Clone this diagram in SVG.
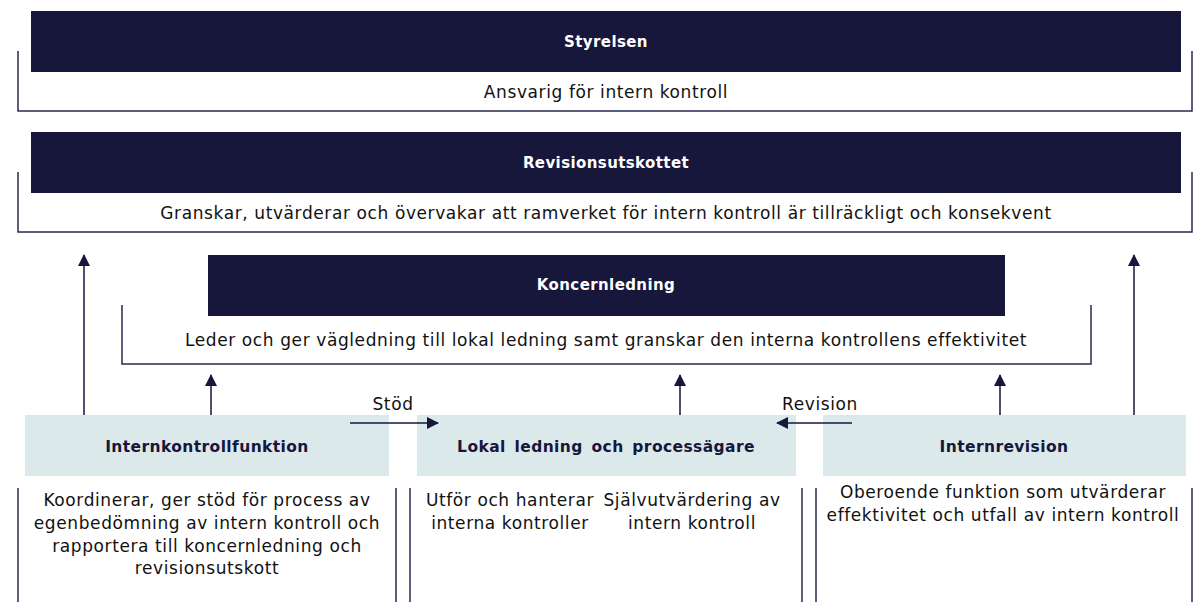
<svg xmlns="http://www.w3.org/2000/svg" width="1196" height="602" viewBox="0 0 1196 602">
<defs>
<marker id="ah" viewBox="0 0 12 12" markerWidth="12" markerHeight="12" refX="11" refY="6" orient="auto" markerUnits="userSpaceOnUse">
<path d="M0,0 L12,6 L0,12 Z" fill="#17163b"/>
</marker>
<style>
.dark{fill:#17163b}
.light{fill:#dce9ea}
.br{fill:none;stroke:#2a2950;stroke-width:1.5}
.hd{font-family:"DejaVu Sans",sans-serif;font-weight:bold;font-size:15px;letter-spacing:0.4px;fill:#ffffff;text-anchor:middle}
.lb{font-family:"DejaVu Sans",sans-serif;font-weight:bold;font-size:15.5px;letter-spacing:0.4px;word-spacing:3px;fill:#17163b;text-anchor:middle}
.tx{font-family:"DejaVu Sans",sans-serif;font-size:17px;letter-spacing:0.6px;fill:#111111;text-anchor:middle}
.cn{fill:none;stroke:#17163b;stroke-width:1.5}
</style>
</defs>
<rect width="1196" height="602" fill="#ffffff"/>
<g id="styrelsen">
<path class="br" d="M18,51 V111 H1192 V51"/>
<rect class="dark" x="31" y="11" width="1150" height="61"/>
<text class="hd" x="606" y="47">Styrelsen</text>
<text class="tx" x="606" y="98">Ansvarig för intern kontroll</text>
</g>
<g id="revisionsutskottet">
<path class="br" d="M18,172 V232 H1192 V172"/>
<rect class="dark" x="31" y="132" width="1150" height="61"/>
<text class="hd" x="606" y="168">Revisionsutskottet</text>
<text class="tx" x="606" y="219">Granskar, utvärderar och övervakar att ramverket för intern kontroll är tillräckligt och konsekvent</text>
</g>
<g id="koncernledning">
<path class="br" d="M122,305 V364 H1091 V305"/>
<rect class="dark" x="208" y="255" width="797" height="61"/>
<text class="hd" x="606" y="290">Koncernledning</text>
<text class="tx" x="606" y="346">Leder och ger vägledning till lokal ledning samt granskar den interna kontrollens effektivitet</text>
</g>
<g id="internkontrollfunktion">
<rect class="light" x="25" y="415" width="364" height="61"/>
<text class="lb" x="207" y="452">Internkontrollfunktion</text>
<path class="br" d="M18,488 V602 M396,488 V602"/>
<text class="tx" x="207" y="506">Koordinerar, ger stöd för process av</text>
<text class="tx" x="207" y="529">egenbedömning av intern kontroll och</text>
<text class="tx" x="207" y="552">rapportera till koncernledning och</text>
<text class="tx" x="207" y="574">revisionsutskott</text>
</g>
<g id="lokal-ledning">
<rect class="light" x="417" y="415" width="379" height="61"/>
<text class="lb" x="606" y="452">Lokal ledning och processägare</text>
<path class="br" d="M410,488 V602 M802,488 V602"/>
<text class="tx" x="510" y="506">Utför och hanterar</text>
<text class="tx" x="510" y="529">interna kontroller</text>
<text class="tx" x="692" y="506">Självutvärdering av</text>
<text class="tx" x="692" y="529">intern kontroll</text>
</g>
<g id="internrevision">
<rect class="light" x="823" y="415" width="363" height="61"/>
<text class="lb" x="1004" y="452">Internrevision</text>
<path class="br" d="M816,488 V602 M1192,488 V602"/>
<text class="tx" x="1003" y="498">Oberoende funktion som utvärderar</text>
<text class="tx" x="1003" y="521">effektivitet och utfall av intern kontroll</text>
</g>
<g id="connectors">
<line class="cn" x1="84" y1="415" x2="84" y2="255" marker-end="url(#ah)"/>
<line class="cn" x1="1134" y1="415" x2="1134" y2="255" marker-end="url(#ah)"/>
<line class="cn" x1="211" y1="415" x2="211" y2="375" marker-end="url(#ah)"/>
<line class="cn" x1="680" y1="415" x2="680" y2="375" marker-end="url(#ah)"/>
<line class="cn" x1="1000" y1="415" x2="1000" y2="375" marker-end="url(#ah)"/>
<line class="cn" x1="350" y1="423" x2="438" y2="423" marker-end="url(#ah)"/>
<line class="cn" x1="852" y1="423" x2="777" y2="423" marker-end="url(#ah)"/>
<text class="tx" x="393" y="410">Stöd</text>
<text class="tx" x="820" y="410">Revision</text>
</g>
</svg>
